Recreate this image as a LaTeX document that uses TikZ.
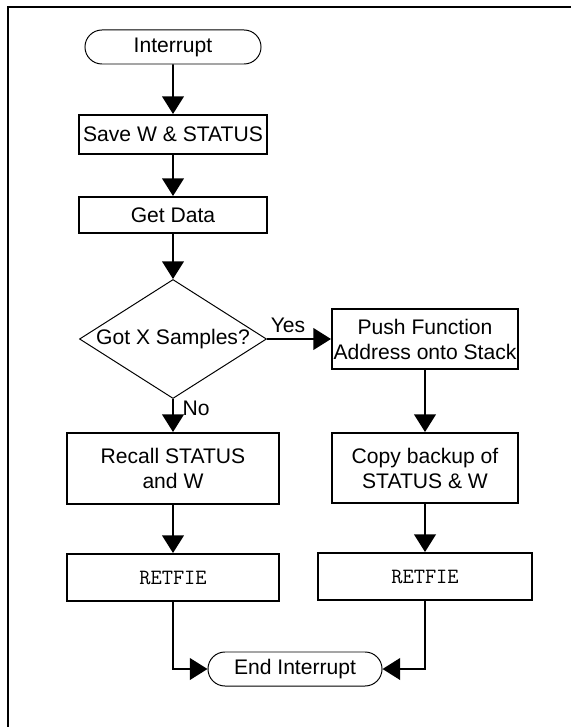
\documentclass[tikz,border=0pt]{standalone}
\usepackage{fontspec}
\setmainfont{Liberation Sans}
\usetikzlibrary{arrows.meta,shapes.geometric,shapes.misc}

\begin{document}
\begin{tikzpicture}[x=0.025cm, y=-0.025cm,
  every node/.style={font=\fontsize{15}{17.8}\selectfont, align=center, inner sep=0pt},
  proc/.style={rectangle, draw, line width=1.4pt, minimum width=4.675cm, minimum height=0.95cm},
  code/.style={proc, minimum height=1.175cm, font=\ttfamily\fontsize{15.5}{17.8}\selectfont},
  term/.style={rounded rectangle, draw, line width=0.7pt, minimum width=4.4cm, minimum height=0.85cm},
  test/.style={diamond, draw, line width=0.7pt, aspect=1.57, minimum width=4.675cm, minimum height=2.975cm},
  flow/.style={line width=1.4pt, -{Triangle[length=4.4mm, width=5.4mm]}}]
  \useasboundingbox (0,0) rectangle (571,727);
  \draw[line width=1.4pt] (8,727) -- (8,7) -- (571,7);
  \node[term] (start) at (173, 47) {Interrupt};
  \node[proc, minimum height=0.975cm] (save) at (173, 134.5) {Save W \& STATUS};
  \node[proc, minimum height=0.9cm] (get) at (173, 215) {Get Data};
  \node[test] (got) at (173, 339) {Got X Samples?};
  \node[proc, minimum width=4.65cm, minimum height=1.5cm] (push) at (425, 339) {Push Function\\Address onto Stack};
  \node[proc, minimum width=5.275cm, minimum height=1.775cm] (recall) at (173, 468.5) {Recall STATUS\\and W};
  \node[proc, minimum width=4.65cm, minimum height=1.75cm] (copy) at (425, 468) {Copy backup of\\STATUS \& W};
  \node[code, minimum width=5.275cm] (retA) at (173, 577.5) {RETFIE};
  \node[code, minimum width=5.325cm] (retB) at (425, 576.5) {RETFIE};
  \node[term, minimum width=4.35cm] (stop) at (295, 669) {End Interrupt};
  \node (yes) at (288, 325) {Yes};
  \node (no) at (196, 408) {No};
  \draw[flow] (start) -- (save);
  \draw[flow] (save) -- (get);
  \draw[flow] (get) -- (got);
  \draw[flow] (got.east) -- (push.west);
  \draw[flow] (got.south) -- (recall);
  \draw[flow] (push) -- (copy);
  \draw[flow] (recall) -- (retA);
  \draw[flow] (copy) -- (retB);
  \draw[flow] (retA.south) |- (stop.west);
  \draw[flow] (retB.south) |- (stop.east);
\end{tikzpicture}
\end{document}
